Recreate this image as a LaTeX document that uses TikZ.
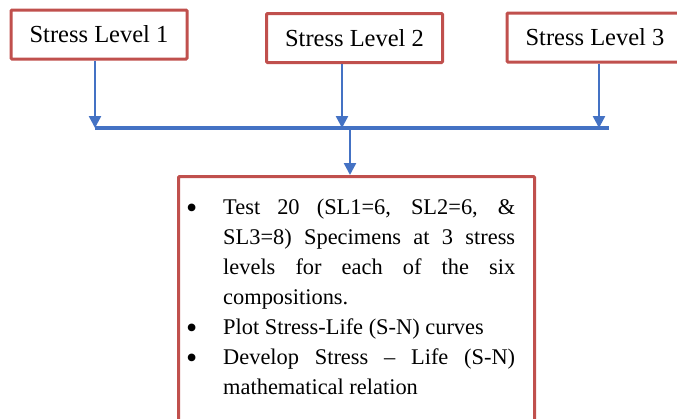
\documentclass[tikz,border=0pt]{standalone}
\usepackage{fontspec}
\setmainfont{Liberation Serif}
\usetikzlibrary{arrows.meta}
\definecolor{boxred}{RGB}{192,80,77}
\definecolor{lineblue}{RGB}{68,114,196}
\tikzset{level/.style={draw=boxred, line width=3pt, rounded corners=1pt, minimum width=176pt, minimum height=49pt, inner sep=0pt, font=\fontsize{24.5}{29}\selectfont}}
\tikzset{testbox/.style={draw=boxred, line width=3pt, rounded corners=1pt, minimum width=356pt, minimum height=260pt, anchor=north west}}
\tikzset{flow/.style={draw=lineblue, line width=2.5pt, -{Triangle[length=12pt, width=12pt]}}}
\newcommand{\testitem}{\par\noindent\hangindent=37pt\hangafter=1\makebox[37pt][l]{\raisebox{-4pt}{\fontsize{32}{30}\selectfont\textbullet}}}

\begin{document}
\begin{tikzpicture}[x=1pt, y=-1pt]
    \useasboundingbox (0, 0) rectangle (677, 418);
    \node[level] (sl1) at (99, 34.5) {Stress Level 1};
    \node[level] (sl2) at (354.5, 38) {Stress Level 2};
    \node[level] (sl3) at (595, 37.5) {Stress Level 3};
    \node[testbox] (tests) at (177, 175) {};
    \node[anchor=base west, text width=329pt, inner sep=0pt, align=justify, font=\fontsize{22.4}{30}\selectfont] (items) at (186, 184) {%
        \testitem Test 20 (SL1=6, SL2=6, \&\linebreak SL3=8) Specimens at 3 stress\linebreak levels for each of the six\linebreak compositions.
        \testitem Plot Stress-Life (S-N) curves
        \testitem Develop Stress -- Life (S-N)\linebreak mathematical relation\par};
    % arrows into the bus
    \coordinate (j1) at (95, 128);
    \coordinate (j2) at (342, 128);
    \coordinate (j3) at (599, 128);
    \coordinate (busend) at (609, 128);
    \coordinate (fork) at (350, 128);
    \draw[flow] (sl1.south -| j1) -- (j1);
    \draw[flow] (sl2.south -| j2) -- (j2);
    \draw[flow] (sl3.south -| j3) -- (j3);
    \draw[draw=lineblue, line width=4pt] (j1) -- (busend);
    \draw[flow] (fork) -- (tests.north -| fork);
\end{tikzpicture}
\end{document}
